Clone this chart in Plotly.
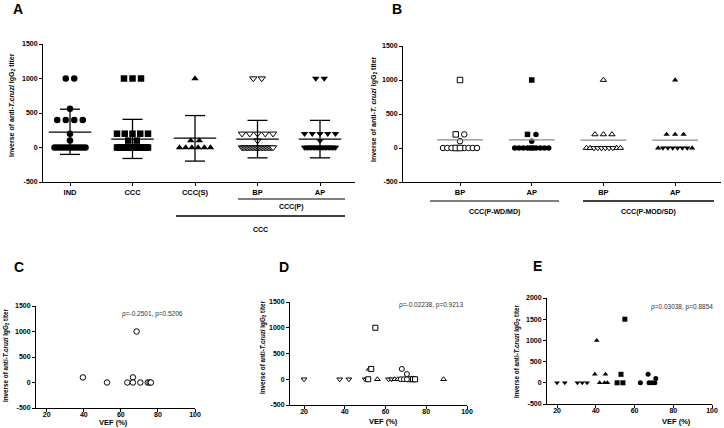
import plotly.graph_objects as go

W, H = 724, 428

# ---------------- Panel A data (value levels and how many points sit at each) ----------------
A_categories = ["IND", "CCC", "CCC(S)", "BP", "AP"]
A_levels = [
    [1000, 560, 400, 200, 100, 0],      # IND
    [1000, 200, 100, 0],                # CCC
    [1000, 100, 0],                     # CCC(S)
    [1000, 200, 100, 0],                # BP
    [1000, 200, 100, 0],                # AP
]
A_counts = [
    [2, 1, 4, 1, 1, 12],
    [3, 5, 2, 20],
    [1, 2, 6],
    [2, 5, 1, 22],
    [2, 5, 1, 22],
]
A_mean = [222, 122, 135, 120, 120]
A_sd_upper = [555, 408, 463, 393, 393]
A_sd_lower = [-100, -159, -197, -150, -150]

# ---------------- Panel B data ----------------
B_categories = ["BP", "AP", "BP", "AP"]
B_groups = ["CCC(P-WD/MD)", "CCC(P-MOD/SD)"]
# first subgroup of each column
B_sub1_levels = [[200, 100, 0], [200, 100, 0], [1000, 200, 0], [1000, 200, 0]]
B_sub1_counts = [[1, 1, 7], [1, 1, 8], [1, 3, 4], [1, 3, 2]]
# second subgroup of each column
B_sub2_levels = [[1000, 200, 0], [1000, 200, 0], [0], [0]]
B_sub2_counts = [[1, 1, 2], [1, 1, 1], [6], [6]]
B_center_line = [120, 120, 115, 115]

# ---------------- Panel C data ----------------
C_vef = [39.5, 52.5, 63.5, 66.5, 66.5, 68.5, 70.5, 74.5, 75.5, 76.2]
C_titer = [100, 0, 0, 100, 0, 1000, 0, 0, 0, 0]
C_text = "ρ=-0.2501, p=0.5206"

# ---------------- Panel D data ----------------
D_circle_vef = [68, 70.5, 67.5, 69, 70.5]
D_circle_titer = [200, 100, 0, 0, 0]
D_square_vef = [51.5, 53, 55, 72, 73.5, 74.5]
D_square_titer = [0, 200, 1000, 0, 0, 0]
D_up_vef = [52, 56, 64.5, 66, 88.5]
D_up_titer = [200, 0, 0, 0, 0]
D_down_vef = [20, 37.5, 42, 50, 51, 61.5, 63]
D_down_titer = [0, 0, 0, 0, 0, 0, 0]
D_text = "ρ=-0.02238, p=0.9213"

# ---------------- Panel E data ----------------
E_down_vef = [20, 24, 30.5, 33, 35.5]
E_down_titer = [0, 0, 0, 0, 0]
E_up_vef = [40.5, 39.5, 45, 42, 44.5, 46]
E_up_titer = [1000, 200, 200, 0, 0, 0]
E_square_vef = [55, 53, 51, 54]
E_square_titer = [1500, 200, 0, 0]
E_circle_vef = [63, 67, 67.5, 69, 70.5, 71]
E_circle_titer = [0, 200, 0, 0, 0, 100]
E_text = "ρ=0.03038, p=0.8854"

FONT = "Liberation Sans, Arial, sans-serif"
YTITLE = "Inverse of anti-<i>T.cruzi</i> IgG<sub>2</sub> titer"
YTITLE_B = "Inverse of anti-<i>T. cruzi</i> IgG<sub>2</sub> titer"


def px(x):
    return x / W


def py(y):
    return 1 - y / H


def row_offsets(n, spacing, max_span):
    if n <= 1:
        return [0.0] * n
    s = min(spacing, max_span / (n - 1))
    return [(i - (n - 1) / 2) * s for i in range(n)]


fig = go.Figure()

OPEN = dict(color="white", line=dict(color="black", width=1))
FILL = dict(color="black", line=dict(color="black", width=0))

# ---------------- Panel A points ----------------
A_ppu = 62.5
A_symbols = ["circle", "square", "triangle-up", "triangle-down", "triangle-down"]
A_styles = [FILL, FILL, FILL, OPEN, FILL]
for i, cat in enumerate(A_categories):
    xs, ys = [], []
    for lev, cnt in zip(A_levels[i], A_counts[i]):
        for off in row_offsets(cnt, 8.5, 31):
            xs.append(i + off / A_ppu)
            ys.append(lev)
    fig.add_trace(go.Scatter(x=xs, y=ys, mode="markers", xaxis="x", yaxis="y",
                             marker=dict(symbol=A_symbols[i], size=6.5, **A_styles[i]),
                             showlegend=False, hoverinfo="skip"))

# error bars (mean +/- SD)
ex, ey = [], []
for i in range(len(A_categories)):
    m, hi, lo = A_mean[i], A_sd_upper[i], A_sd_lower[i]
    ex += [i, i, None, i - 0.16, i + 0.16, None, i - 0.16, i + 0.16, None, i - 0.34, i + 0.34, None]
    ey += [lo, hi, None, hi, hi, None, lo, lo, None, m, m, None]
fig.add_trace(go.Scatter(x=ex, y=ey, mode="lines", xaxis="x", yaxis="y",
                         line=dict(color="black", width=1.3), showlegend=False, hoverinfo="skip"))

# ---------------- Panel B points ----------------
B_ppu = 71.7
B_sym1 = ["circle", "circle", "triangle-up", "triangle-up"]
B_sym2 = ["square", "square", "triangle-down", "triangle-down"]
B_sty = [OPEN, FILL, OPEN, FILL]
for i in range(4):
    levels = sorted(set(B_sub1_levels[i]) | set(B_sub2_levels[i]), reverse=True)
    x1, y1, x2, y2 = [], [], [], []
    for lev in levels:
        n1 = B_sub1_counts[i][B_sub1_levels[i].index(lev)] if lev in B_sub1_levels[i] else 0
        n2 = B_sub2_counts[i][B_sub2_levels[i].index(lev)] if lev in B_sub2_levels[i] else 0
        tags = [1] * n1
        ins = len(tags) // 2
        tags = tags[:ins] + [2] * n2 + tags[ins:]
        offs = row_offsets(len(tags), 8.5, 34)
        for t, off in zip(tags, offs):
            if t == 1:
                x1.append(i + off / B_ppu); y1.append(lev)
            else:
                x2.append(i + off / B_ppu); y2.append(lev)
    fig.add_trace(go.Scatter(x=x1, y=y1, mode="markers", xaxis="x2", yaxis="y2",
                             marker=dict(symbol=B_sym1[i], size=5.5, **B_sty[i]),
                             showlegend=False, hoverinfo="skip"))
    fig.add_trace(go.Scatter(x=x2, y=y2, mode="markers", xaxis="x2", yaxis="y2",
                             marker=dict(symbol=B_sym2[i], size=5.5, **B_sty[i]),
                             showlegend=False, hoverinfo="skip"))
bx, by = [], []
for i in range(4):
    bx += [i - 0.32, i + 0.32, None]
    by += [B_center_line[i], B_center_line[i], None]
fig.add_trace(go.Scatter(x=bx, y=by, mode="lines", xaxis="x2", yaxis="y2",
                         line=dict(color="#8a8a8a", width=1.3), showlegend=False, hoverinfo="skip"))

# ---------------- Panel C ----------------
fig.add_trace(go.Scatter(x=C_vef, y=C_titer, mode="markers", xaxis="x3", yaxis="y3",
                         marker=dict(symbol="circle", size=5.5, **OPEN),
                         showlegend=False, hoverinfo="skip"))

# ---------------- Panel D ----------------
for xs, ys, sym in [(D_down_vef, D_down_titer, "triangle-down"),
                    (D_up_vef, D_up_titer, "triangle-up"),
                    (D_square_vef, D_square_titer, "square"),
                    (D_circle_vef, D_circle_titer, "circle")]:
    fig.add_trace(go.Scatter(x=xs, y=ys, mode="markers", xaxis="x4", yaxis="y4",
                             marker=dict(symbol=sym, size=5, **OPEN),
                             showlegend=False, hoverinfo="skip"))

# ---------------- Panel E ----------------
for xs, ys, sym in [(E_down_vef, E_down_titer, "triangle-down"),
                    (E_up_vef, E_up_titer, "triangle-up"),
                    (E_square_vef, E_square_titer, "square"),
                    (E_circle_vef, E_circle_titer, "circle")]:
    fig.add_trace(go.Scatter(x=xs, y=ys, mode="markers", xaxis="x5", yaxis="y5",
                             marker=dict(symbol=sym, size=5, **FILL),
                             showlegend=False, hoverinfo="skip"))

# ---------------- Axes ----------------
tickfont = dict(family=FONT, size=7, color="black", weight="bold")
base = dict(showline=True, linecolor="black", linewidth=1, ticks="outside", ticklen=3,
            tickwidth=1, tickcolor="black", showgrid=False, zeroline=False,
            tickfont=tickfont, automargin=False, fixedrange=True)


def yax(domain, anchor, vals):
    return dict(base, domain=domain, anchor=anchor, range=[vals[0], vals[-1]],
                tickvals=vals, ticktext=[str(v) for v in vals])


def xnum(domain, anchor, rng):
    vals = [20, 40, 60, 80, 100]
    return dict(base, domain=domain, anchor=anchor, range=rng, ticklabelstandoff=-3,
                tickvals=vals, ticktext=[str(v) for v in vals])


yvals = [-500, 0, 500, 1000, 1500]
fig.update_layout(
    xaxis=dict(base, domain=[px(43), px(355)], anchor="y", range=[-0.432, 4.56],
               tickvals=list(range(5)), ticktext=A_categories, tickfont=dict(tickfont, size=7.5)),
    yaxis=yax([py(182), py(44)], "x", yvals),
    xaxis2=dict(base, domain=[px(403), px(721)], anchor="y2", range=[-0.795, 3.64],
                tickvals=list(range(4)), ticktext=B_categories, tickfont=dict(tickfont, size=7.5)),
    yaxis2=yax([py(182), py(46)], "x2", yvals),
    xaxis3=xnum([px(36), px(195)], "y3", [14.2, 100]),
    yaxis3=yax([py(408), py(306)], "x3", yvals),
    xaxis4=xnum([px(290), px(467)], "y4", [13.1, 100]),
    yaxis4=yax([py(405), py(302)], "x4", yvals),
    xaxis5=xnum([px(547), px(712)], "y5", [14.8, 100]),
    yaxis5=yax([py(404), py(298)], "x5", [-500, 0, 500, 1000, 1500, 2000]),
    width=W, height=H, margin=dict(l=0, r=0, t=0, b=0),
    paper_bgcolor="white", plot_bgcolor="white", showlegend=False,
)

ann = []


def text(x, y, s, size=7, bold=True, angle=0, color="black"):
    ann.append(dict(x=px(x), y=py(y), xref="paper", yref="paper", text=s, showarrow=False,
                    textangle=angle, xanchor="center", yanchor="middle",
                    font=dict(family=FONT, size=size, color=color,
                              weight="bold" if bold else "normal")))


# panel letters
text(18, 9, "A", size=14)
text(397, 9, "B", size=14)
text(19, 267, "C", size=14)
text(284, 267, "D", size=14)
text(537, 266, "E", size=14)

# y-axis titles
text(12, 105, YTITLE, size=7, angle=-90)
text(374, 109, YTITLE_B, size=7, angle=-90)
text(6, 355, YTITLE, size=6.3, angle=-90)
text(263, 347, YTITLE, size=6.3, angle=-90)
text(517, 351, YTITLE, size=6.3, angle=-90)

# x-axis titles
text(114, 422, "VEF (%)", size=7.5)
text(383, 421, "VEF (%)", size=7.5)
text(676, 421, "VEF (%)", size=7.5)

# correlation notes
text(152, 314, C_text, size=6.5, bold=False, color="#333333")
text(431, 305, D_text, size=6.5, bold=False, color="#333333")
text(682, 307, E_text, size=6.5, bold=False, color="#333333")

# group labels
text(291, 207, "CCC(P)", size=7)
text(260, 229, "CCC", size=7)
text(495, 212, B_groups[0], size=7)
text(648, 212, B_groups[1], size=7)

fig.update_layout(annotations=ann)

shapes = [
    dict(type="line", xref="paper", yref="paper", x0=px(238), x1=px(345), y0=py(199), y1=py(199),
         line=dict(color="#555555", width=1.5)),
    dict(type="line", xref="paper", yref="paper", x0=px(176), x1=px(345), y0=py(216), y1=py(216),
         line=dict(color="black", width=1.5)),
    dict(type="line", xref="paper", yref="paper", x0=px(430), x1=px(559), y0=py(201), y1=py(201),
         line=dict(color="#555555", width=1.5)),
    dict(type="line", xref="paper", yref="paper", x0=px(583), x1=px(714), y0=py(201), y1=py(201),
         line=dict(color="black", width=1.5)),
]
fig.update_layout(shapes=shapes)

fig.write_html("out.html", config={"displayModeBar": False},
               post_script="document.body.style.margin='0px';document.body.style.overflow='hidden';")
